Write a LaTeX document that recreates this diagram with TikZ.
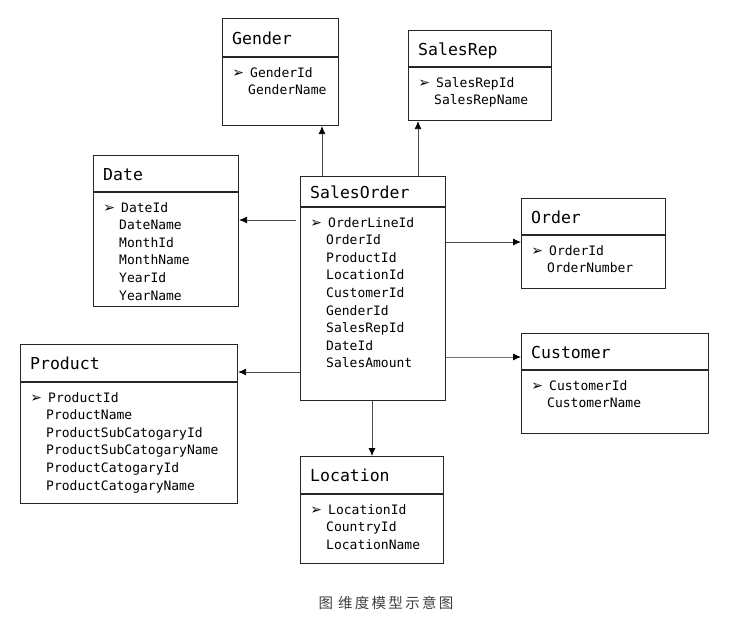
\documentclass[tikz,border=0pt]{standalone}
\usepackage{fontspec}
\setmonofont{DejaVu Sans Mono}
\newfontfamily\symfont{DejaVu Sans}
\newfontfamily\cjkfont[LetterSpace=16]{Noto Sans CJK SC}
\usetikzlibrary{arrows.meta}

\newcommand{\keymark}{\llap{{\symfont\fontsize{14}{14}\selectfont ➢}\hspace{6pt}}}

\begin{document}
\begin{tikzpicture}[x=1pt,y=-1pt,
        tbl/.style={draw=black!85, line width=1.1pt, inner sep=0pt},
        ttl/.style={anchor=base west, inner sep=0pt, font=\ttfamily\fontsize{16.5}{18}\selectfont},
        itm/.style={anchor=base west, inner sep=0pt, font=\ttfamily\fontsize{13}{15}\selectfont},
        link/.style={draw=black!70, line width=0.8pt, -{Latex[length=8pt,width=7pt,color=black]}}]

            \useasboundingbox (0,0) rectangle (747,621);

            % Tables: name/left/top/width/height/header/title/fields
            \foreach \nm/\l/\t/\w/\h/\hd/\ttlname/\fields in {
            gender/222/18/116/107/39/Gender/{GenderId,GenderName},
            salesrep/408/30/143/90/37/SalesRep/{SalesRepId,SalesRepName},
            date/93/155/145/151/37/Date/{DateId,DateName,MonthId,MonthName,YearId,YearName},
            so/300/176/145/224/31/SalesOrder/{OrderLineId,OrderId,ProductId,LocationId,CustomerId,GenderId,SalesRepId,DateId,SalesAmount},
            order/521/198/144/90/37/Order/{OrderId,OrderNumber},
            product/20/344/217/159/38/Product/{ProductId,ProductName,ProductSubCatogaryId,ProductSubCatogaryName,ProductCatogaryId,ProductCatogaryName},
            customer/521/333/187/100/37/Customer/{CustomerId,CustomerName},
            location/300/456/143/107/38/Location/{LocationId,CountryId,LocationName}} {
            \node [tbl, anchor=north west, minimum width=\w pt, minimum height=\h pt] (\nm) at (\l,\t) {};
            \draw [tbl] ([yshift=-\hd pt]\nm.north west) -- ([yshift=-\hd pt]\nm.north east);
            \node [ttl] (\nm-title) at ({\l+10}, {\t+\hd/2+6.5}) {\ttlname};
            \foreach \f [count=\i] in \fields {
            \node [itm] (\nm-\i) at ({\l+26+2*(\i==1)}, {\t+\hd+20+(\i-1)*17.6}) {\ifnum\i=1 \keymark\fi\f};
            }
            }

            % Connectors from the fact table to the dimensions
            \coordinate (to-gender) at (322,0);
            \coordinate (to-salesrep) at (418,0);
            \coordinate (to-date) at (296,220);
            \coordinate (to-product) at (0,372);
            \coordinate (to-order) at (0,242);
            \coordinate (to-customer) at (0,357);
            \coordinate (to-location) at (372,0);

            \draw [link] (so.north -| to-gender) -- (gender.south -| to-gender);
            \draw [link] (so.north -| to-salesrep) -- (salesrep.south -| to-salesrep);
            \draw [link] (to-date) -- (to-date -| date.east);
            \draw [link] (so.west |- to-product) -- (product.east |- to-product);
            \draw [link] (so.east |- to-order) -- (order.west |- to-order);
            \draw [link, draw=black!55] (so.east |- to-customer) -- (customer.west |- to-customer);
            \draw [link] (so.south -| to-location) -- (location.north -| to-location);

            % Caption
            \node [font=\cjkfont\fontsize{14.5}{16}\selectfont, text=black!75] (caption) at (386,603) {图\hspace{5pt}维度模型示意图};

        \end{tikzpicture}
\end{document}
